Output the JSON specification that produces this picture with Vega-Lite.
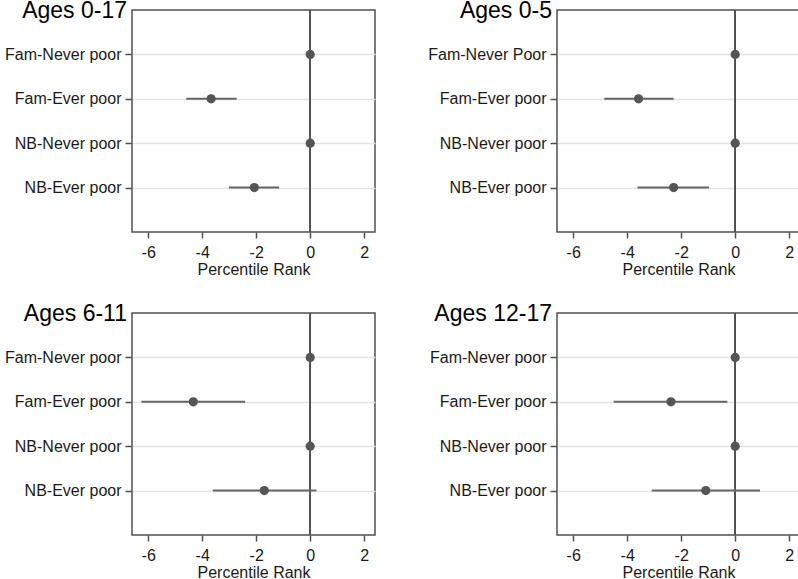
{
  "$schema": "https://vega.github.io/schema/vega-lite/v6.json",
  "padding": {"left": 3, "top": -1, "right": 0, "bottom": 0},
  "background": "white",
  "config": {
    "font": "Liberation Sans",
    "view": {"stroke": "#505050", "strokeWidth": 1.5},
    "axis": {"labelFont": "Liberation Sans", "titleFont": "Liberation Sans", "labelFontSize": 16, "titleFontSize": 16, "titleFontWeight": "normal", "labelColor": "#1a1a1a", "titleColor": "#1a1a1a", "domain": false, "tickColor": "#505050", "tickWidth": 1.5},
    "title": {"font": "Liberation Sans", "fontSize": 23, "fontWeight": "normal", "color": "black"}
  },
  "datasets": {
    "d": [
      {"panel": "Ages 0-17", "group": "Fam-Never poor", "est": 0, "lo": 0, "hi": 0},
      {"panel": "Ages 0-17", "group": "Fam-Ever poor", "est": -3.67, "lo": -4.59, "hi": -2.72},
      {"panel": "Ages 0-17", "group": "NB-Never poor", "est": 0, "lo": 0, "hi": 0},
      {"panel": "Ages 0-17", "group": "NB-Ever poor", "est": -2.07, "lo": -3.01, "hi": -1.15},
      {"panel": "Ages 0-5", "group": "Fam-Never Poor", "est": 0, "lo": 0, "hi": 0},
      {"panel": "Ages 0-5", "group": "Fam-Ever poor", "est": -3.58, "lo": -4.85, "hi": -2.28},
      {"panel": "Ages 0-5", "group": "NB-Never poor", "est": 0, "lo": 0, "hi": 0},
      {"panel": "Ages 0-5", "group": "NB-Ever poor", "est": -2.28, "lo": -3.62, "hi": -0.97},
      {"panel": "Ages 6-11", "group": "Fam-Never poor", "est": 0, "lo": 0, "hi": 0},
      {"panel": "Ages 6-11", "group": "Fam-Ever poor", "est": -4.33, "lo": -6.25, "hi": -2.41},
      {"panel": "Ages 6-11", "group": "NB-Never poor", "est": 0, "lo": 0, "hi": 0},
      {"panel": "Ages 6-11", "group": "NB-Ever poor", "est": -1.70, "lo": -3.61, "hi": 0.23},
      {"panel": "Ages 12-17", "group": "Fam-Never poor", "est": 0, "lo": 0, "hi": 0},
      {"panel": "Ages 12-17", "group": "Fam-Ever poor", "est": -2.38, "lo": -4.50, "hi": -0.29},
      {"panel": "Ages 12-17", "group": "NB-Never poor", "est": 0, "lo": 0, "hi": 0},
      {"panel": "Ages 12-17", "group": "NB-Ever poor", "est": -1.09, "lo": -3.09, "hi": 0.92}
    ]
  },
  "columns": 2,
  "spacing": {"column": 51, "row": 24},
  "concat": [
    {
      "title": {"text": "Ages 0-17", "anchor": "start", "frame": "group", "align": "right", "baseline": "alphabetic", "offset": -32, "dx": -5},
      "width": 243, "height": 222,
      "data": {"name": "d"},
      "transform": [{"filter": "datum.panel === 'Ages 0-17'"}],
      "encoding": {
        "y": {"field": "group", "type": "nominal", "sort": null, "scale": {"type": "point", "padding": 1}, "axis": {"title": null, "grid": true, "gridColor": "#e4e4e4", "gridWidth": 1.5, "tickSize": 7, "labelPadding": 4}}
      },
      "layer": [
        {"mark": {"type": "rule", "color": "#505050", "strokeWidth": 1.5}, "encoding": {"x": {"datum": 0, "type": "quantitative", "scale": {"domain": [-6.6, 2.4], "nice": false}, "axis": {"title": "Percentile Rank", "values": [-6, -4, -2, 0, 2], "labelExpr": "'' + datum.value", "grid": false, "tickSize": 6, "labelPadding": 6, "titlePadding": 1}}, "y": null}},
        {"mark": {"type": "rule", "color": "#666666", "strokeWidth": 2}, "encoding": {"x": {"field": "lo", "type": "quantitative"}, "x2": {"field": "hi"}}},
        {"mark": {"type": "circle", "color": "#555555", "opacity": 1, "size": 85}, "encoding": {"x": {"field": "est", "type": "quantitative"}}}
      ]
    },
    {
      "title": {"text": "Ages 0-5", "anchor": "start", "frame": "group", "align": "right", "baseline": "alphabetic", "offset": -32, "dx": -5},
      "width": 243, "height": 222,
      "data": {"name": "d"},
      "transform": [{"filter": "datum.panel === 'Ages 0-5'"}],
      "encoding": {
        "y": {"field": "group", "type": "nominal", "sort": null, "scale": {"type": "point", "padding": 1}, "axis": {"title": null, "grid": true, "gridColor": "#e4e4e4", "gridWidth": 1.5, "tickSize": 7, "labelPadding": 4}}
      },
      "layer": [
        {"mark": {"type": "rule", "color": "#505050", "strokeWidth": 1.5}, "encoding": {"x": {"datum": 0, "type": "quantitative", "scale": {"domain": [-6.6, 2.4], "nice": false}, "axis": {"title": "Percentile Rank", "values": [-6, -4, -2, 0, 2], "labelExpr": "'' + datum.value", "grid": false, "tickSize": 6, "labelPadding": 6, "titlePadding": 1}}, "y": null}},
        {"mark": {"type": "rule", "color": "#666666", "strokeWidth": 2}, "encoding": {"x": {"field": "lo", "type": "quantitative"}, "x2": {"field": "hi"}}},
        {"mark": {"type": "circle", "color": "#555555", "opacity": 1, "size": 85}, "encoding": {"x": {"field": "est", "type": "quantitative"}}}
      ]
    },
    {
      "title": {"text": "Ages 6-11", "anchor": "start", "frame": "group", "align": "right", "baseline": "alphabetic", "offset": -32, "dx": -5},
      "width": 243, "height": 222,
      "data": {"name": "d"},
      "transform": [{"filter": "datum.panel === 'Ages 6-11'"}],
      "encoding": {
        "y": {"field": "group", "type": "nominal", "sort": null, "scale": {"type": "point", "padding": 1}, "axis": {"title": null, "grid": true, "gridColor": "#e4e4e4", "gridWidth": 1.5, "tickSize": 7, "labelPadding": 4}}
      },
      "layer": [
        {"mark": {"type": "rule", "color": "#505050", "strokeWidth": 1.5}, "encoding": {"x": {"datum": 0, "type": "quantitative", "scale": {"domain": [-6.6, 2.4], "nice": false}, "axis": {"title": "Percentile Rank", "values": [-6, -4, -2, 0, 2], "labelExpr": "'' + datum.value", "grid": false, "tickSize": 6, "labelPadding": 6, "titlePadding": 1}}, "y": null}},
        {"mark": {"type": "rule", "color": "#666666", "strokeWidth": 2}, "encoding": {"x": {"field": "lo", "type": "quantitative"}, "x2": {"field": "hi"}}},
        {"mark": {"type": "circle", "color": "#555555", "opacity": 1, "size": 85}, "encoding": {"x": {"field": "est", "type": "quantitative"}}}
      ]
    },
    {
      "title": {"text": "Ages 12-17", "anchor": "start", "frame": "group", "align": "right", "baseline": "alphabetic", "offset": -32, "dx": -5},
      "width": 243, "height": 222,
      "data": {"name": "d"},
      "transform": [{"filter": "datum.panel === 'Ages 12-17'"}],
      "encoding": {
        "y": {"field": "group", "type": "nominal", "sort": null, "scale": {"type": "point", "padding": 1}, "axis": {"title": null, "grid": true, "gridColor": "#e4e4e4", "gridWidth": 1.5, "tickSize": 7, "labelPadding": 4}}
      },
      "layer": [
        {"mark": {"type": "rule", "color": "#505050", "strokeWidth": 1.5}, "encoding": {"x": {"datum": 0, "type": "quantitative", "scale": {"domain": [-6.6, 2.4], "nice": false}, "axis": {"title": "Percentile Rank", "values": [-6, -4, -2, 0, 2], "labelExpr": "'' + datum.value", "grid": false, "tickSize": 6, "labelPadding": 6, "titlePadding": 1}}, "y": null}},
        {"mark": {"type": "rule", "color": "#666666", "strokeWidth": 2}, "encoding": {"x": {"field": "lo", "type": "quantitative"}, "x2": {"field": "hi"}}},
        {"mark": {"type": "circle", "color": "#555555", "opacity": 1, "size": 85}, "encoding": {"x": {"field": "est", "type": "quantitative"}}}
      ]
    }
  ]
}
